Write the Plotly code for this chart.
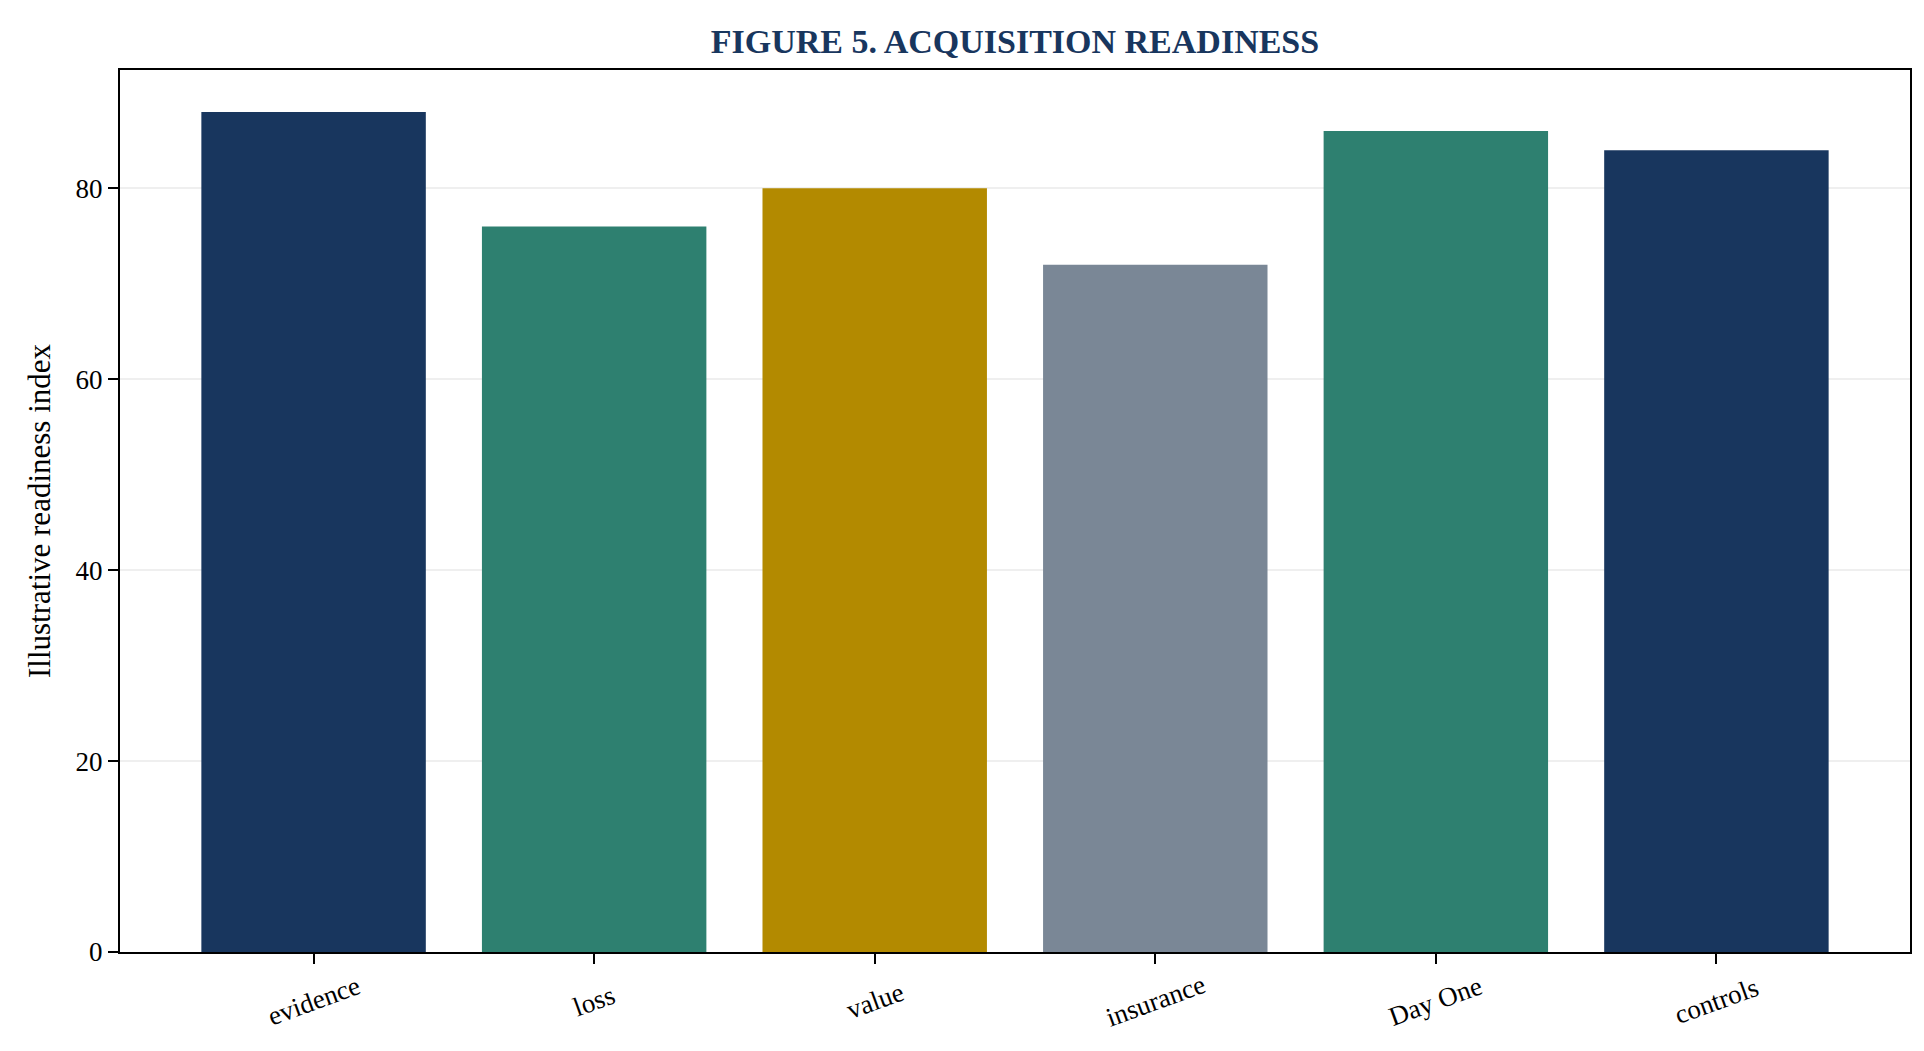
import plotly.graph_objs as go

# ------------------------------------------------- DATA -----------------------------------------------------
categories = ['evidence', 'loss', 'value', 'insurance', 'Day One', 'controls']
readiness = [88, 76, 80, 72, 86, 84]
bar_colors = ['#18365e', '#2e8070', '#b38a00', '#7a8796', '#2e8070', '#18365e']
y_ticks = [0, 20, 40, 60, 80]

serif = 'Liberation Serif, Times New Roman, serif'

# ------------------------------------------------- FIGURE -----------------------------------------------------
fig = go.Figure()
fig.add_trace(go.Bar(x=categories, y=readiness, marker=dict(color=bar_colors, line=dict(width=0)),
                     showlegend=False))

# rotated category labels, centred under each tick (matplotlib style)
for cat in categories:
    fig.add_annotation(x=cat, xref='x', y=0, yref='paper', yshift=-49, text=cat, showarrow=False,
                       textangle=-20, xanchor='center', yanchor='middle',
                       font=dict(size=27, family=serif, color='black'))

fig.update_layout(
    width=1924, height=1051,
    margin=dict(l=112, r=22, t=62, b=107),
    paper_bgcolor='white', plot_bgcolor='white',
    bargap=0.2,
    font=dict(family=serif, size=27, color='black'),
    title=dict(text='<b>FIGURE 5. ACQUISITION READINESS</b>', x=0.5, xanchor='center', xref='paper',
               y=1 - 33 / 1051, yanchor='middle', yref='container',
               font=dict(size=34, color='#18365e', family=serif)),
)

fig.update_xaxes(range=[-0.69, 5.69], ticks='outside', ticklen=10, tickwidth=2, showticklabels=False,
                 tickcolor='black', showline=True, linecolor='black', linewidth=2, mirror=True,
                 showgrid=False, automargin=False)
fig.update_yaxes(range=[0, 92.4], tickvals=y_ticks, ticks='outside', ticklen=10, tickwidth=2,
                 tickcolor='black', showline=True, linecolor='black', linewidth=2, mirror=True,
                 showgrid=True, gridcolor='rgba(190,190,190,0.25)', gridwidth=2, zeroline=False,
                 layer='above traces', tickfont=dict(size=27), automargin=False,
                 title=dict(text='Illustrative readiness index', font=dict(size=31), standoff=16))

fig.write_html("out.html")
